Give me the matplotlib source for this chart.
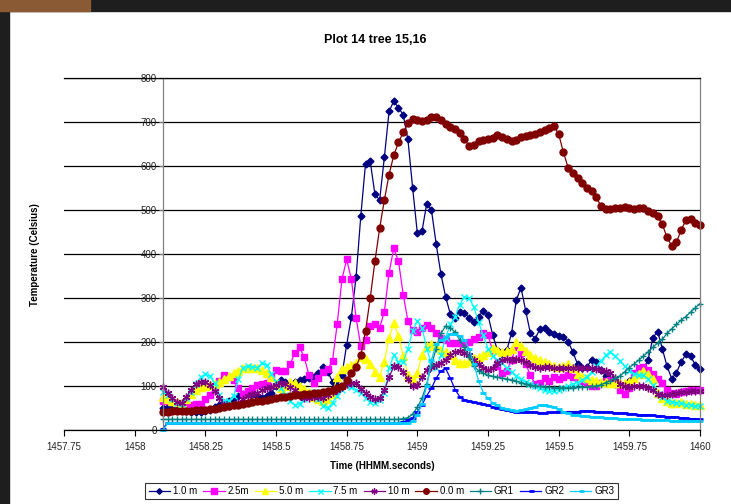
import numpy as np
import matplotlib.pyplot as plt
from matplotlib.patches import Rectangle

plt.rcParams['font.family'] = ['Liberation Sans', 'DejaVu Sans']

# readings start at 1458.1 and are taken once a second
t_start = 1458.1

t_1m = [50, 52, 55, 52, 48, 44, 42, 41, 41, 43,
        45, 52, 57, 62, 67, 72, 77, 81, 84, 82,
        77, 73, 78, 85, 100, 113, 110, 106, 110, 114,
        117, 118, 121, 130, 144, 132, 110, 100, 125, 194,
        257, 348, 487, 606, 611, 536, 523, 620, 725, 748,
        733, 717, 661, 551, 448, 453, 515, 500, 423, 355,
        303, 264, 254, 269, 267, 254, 246, 258, 271, 261,
        216, 182, 174, 182, 220, 295, 324, 271, 220, 208,
        229, 231, 224, 218, 214, 211, 201, 178, 150, 140,
        144, 159, 155, 136, 122, 112, 105, 100, 104, 112,
        120, 130, 140, 160, 210, 224, 185, 145, 117, 130,
        155, 172, 168, 148, 138]

t_2_5m = [65, 65, 64, 62, 58, 57, 58, 59, 60, 70,
          80, 95, 112, 125, 121, 113, 95, 82, 88, 95,
          102, 105, 107, 120, 136, 135, 134, 150, 175, 188,
          165, 125, 106, 118, 132, 138, 158, 242, 343, 388,
          343, 255, 191, 204, 236, 241, 233, 269, 358, 413,
          384, 308, 248, 227, 222, 232, 239, 231, 221, 210,
          204, 198, 197, 197, 198, 201, 206, 212, 220, 216,
          180, 145, 130, 135, 160, 188, 176, 150, 125, 105,
          108, 118, 112, 120, 116, 120, 124, 120, 116, 112,
          106, 101, 100, 106, 112, 114, 108, 90, 83, 96,
          130, 142, 144, 136, 128, 116, 106, 90, 84, 83,
          86, 88, 90, 90, 90]

t_5m = [76, 70, 65, 63, 61, 70, 82, 92, 98, 100,
        102, 105, 110, 117, 123, 129, 135, 141, 142, 142,
        140, 137, 130, 121, 108, 96, 100, 110, 108, 100,
        93, 86, 76, 70, 67, 70, 83, 121, 138, 143,
        147, 152, 166, 162, 150, 133, 121, 155, 210, 243,
        214, 168, 125, 116, 130, 170, 192, 195, 190, 182,
        177, 171, 160, 153, 153, 157, 163, 166, 170, 178,
        186, 182, 178, 179, 185, 201, 190, 180, 170, 164,
        160, 155, 150, 145, 143, 145, 150, 140, 128, 121,
        118, 114, 112, 110, 110, 108, 107, 106, 108, 110,
        118, 128, 135, 128, 115, 85, 72, 67, 62, 62,
        63, 60, 60, 58, 58]

t_7_5m = [87, 80, 70, 62, 60, 72, 86, 104, 120, 127,
          122, 106, 80, 67, 66, 78, 115, 142, 145, 144,
          142, 152, 148, 128, 110, 96, 80, 65, 57, 60,
          70, 80, 86, 70, 55, 50, 62, 78, 92, 100,
          98, 92, 85, 72, 64, 62, 68, 85, 140, 170,
          155, 155, 185, 225, 248, 232, 185, 150, 140, 170,
          210, 240, 258, 285, 303, 300, 280, 245, 215, 185,
          168, 160, 152, 140, 132, 122, 115, 110, 104, 100,
          96, 91, 88, 88, 92, 96, 100, 104, 108, 114,
          121, 132, 145, 158, 170, 178, 168, 157, 145, 135,
          128, 124, 125, 115, 102, 82, 74, 67, 64, 62,
          61, 58, 57, 55, 54]

t_10m = [98, 85, 72, 64, 62, 75, 92, 105, 110, 110,
         102, 88, 72, 58, 54, 56, 62, 70, 78, 82,
         84, 90, 95, 98, 102, 106, 104, 98, 91, 78,
         73, 72, 75, 74, 73, 80, 86, 90, 98, 105,
         108, 106, 94, 84, 74, 70, 72, 90, 120, 145,
         144, 132, 116, 100, 102, 120, 137, 144, 148, 152,
         160, 170, 177, 180, 176, 170, 160, 150, 142, 137,
         140, 152, 160, 162, 159, 162, 160, 155, 147, 144,
         142, 144, 143, 142, 140, 140, 141, 142, 141, 142,
         141, 140, 138, 136, 134, 130, 118, 105, 99, 97,
         99, 100, 100, 96, 90, 81, 79, 80, 82, 84,
         86, 87, 88, 89, 89]

t_0m = [42, 42, 43, 43, 44, 44, 44, 45, 45, 46,
        47, 48, 50, 52, 54, 56, 58, 60, 62, 64,
        66, 67, 68, 70, 72, 74, 76, 78, 79, 80,
        82, 83, 84, 85, 86, 88, 91, 95, 101, 114,
        130, 144, 170, 225, 300, 384, 459, 523, 581, 625,
        654, 677, 698, 707, 706, 702, 705, 712, 712, 706,
        697, 690, 684, 676, 661, 646, 649, 658, 659, 661,
        664, 670, 667, 661, 658, 660, 667, 669, 670, 673,
        677, 682, 686, 691, 673, 632, 597, 585, 574, 562,
        551, 543, 529, 509, 502, 502, 504, 506, 508, 504,
        502, 506, 506, 498, 494, 486, 468, 438, 419, 427,
        455, 477, 481, 470, 466]

gr1 = [24, 24, 24, 24, 24, 24, 24, 24, 24, 24,
       24, 24, 24, 24, 24, 24, 24, 24, 24, 24,
       24, 24, 24, 24, 24, 24, 24, 24, 24, 24,
       24, 24, 24, 24, 24, 24, 24, 24, 24, 24,
       24, 24, 24, 24, 24, 24, 24, 24, 24, 24,
       24, 26, 28, 36, 52, 72, 105, 148, 185, 220,
       236, 233, 222, 205, 188, 165, 145, 135, 129, 124,
       122, 120, 118, 116, 114, 111, 108, 105, 102, 100,
       99, 98, 97, 96, 96, 96, 96, 96, 97, 97,
       98, 99, 100, 103, 108, 112, 118, 123, 132, 142,
       150, 159, 168, 178, 188, 198, 206, 220, 230, 240,
       250, 258, 268, 278, 287]

gr2 = [3, 17, 17, 17, 17, 17, 17, 17, 17, 17,
       17, 17, 17, 17, 17, 17, 17, 17, 17, 17,
       17, 17, 17, 17, 17, 17, 17, 17, 17, 17,
       17, 17, 17, 17, 17, 17, 17, 17, 17, 17,
       17, 17, 17, 17, 17, 17, 17, 17, 17, 17,
       17, 18, 22, 27, 40, 58, 78, 95, 118, 134,
       140, 118, 92, 76, 69, 66, 63, 61, 59, 56,
       53, 50, 47, 45, 43, 42, 42, 42, 41, 40,
       39, 39, 40, 40, 41, 41, 42, 42, 42, 43,
       43, 43, 42, 42, 41, 40, 39, 38, 38, 37,
       36, 35, 35, 34, 33, 32, 31, 30, 30, 29,
       28, 27, 26, 26, 25]

gr3 = [0, 15, 15, 15, 15, 15, 15, 15, 15, 15,
       15, 15, 15, 15, 15, 15, 15, 15, 15, 15,
       15, 15, 15, 15, 15, 15, 15, 15, 15, 15,
       15, 15, 15, 15, 15, 15, 15, 15, 15, 15,
       15, 15, 15, 15, 15, 15, 15, 15, 15, 15,
       15, 15, 16, 20, 35, 60, 100, 160, 195, 205,
       212, 218, 218, 214, 205, 185, 150, 112, 85, 72,
       62, 56, 51, 47, 45, 44, 45, 47, 50, 53,
       56, 57, 55, 52, 47, 42, 38, 35, 33, 32,
       31, 30, 29, 29, 28, 27, 27, 26, 25, 25,
       24, 24, 23, 23, 23, 22, 22, 22, 21, 21,
       21, 21, 21, 21, 21]

labels = ['1.0 m', '2.5m', '5.0 m', '7.5 m', '10 m', '0.0 m', 'GR1', 'GR2', 'GR3']
series = [t_1m, t_2_5m, t_5m, t_7_5m, t_10m, t_0m, gr1, gr2, gr3]

x_ticks = [1457.75, 1458, 1458.25, 1458.5, 1458.75, 1459, 1459.25, 1459.5, 1459.75, 1460]
x_tick_labels = ['1457.75', '1458', '1458.25', '1458.5', '1458.75', '1459',
                 '1459.25', '1459.5', '1459.75', '1460']
y_ticks = [0, 100, 200, 300, 400, 500, 600, 700, 800]

# marker style per series (Excel defaults)
styles = [
    dict(color='#000080', marker='D', ms=3.5),
    dict(color='#FF00FF', marker='s', ms=5),
    dict(color='#FFFF00', marker='^', ms=5.5),
    dict(color='#00FFFF', marker='x', ms=4.5, mew=1),
    dict(color='#800080', marker=(6, 2, 0), ms=5.5, mew=1),
    dict(color='#800000', marker='o', ms=5),
    dict(color='#008080', marker='+', ms=5, mew=1),
    dict(color='#0000FF', marker='_', ms=4.5, mew=2),
    dict(color='#00CCFF', marker='_', ms=4.5, mew=2),
]

W, H = 731, 504
fig = plt.figure(figsize=(W / 100, H / 100), dpi=100)

# dark screenshot border
fig.patches.append(Rectangle((0, 0), 9 / W, 1, transform=fig.transFigure,
                             color='#1e1e1e', zorder=-5))
fig.patches.append(Rectangle((0, 1 - 11 / H), 1, 11 / H, transform=fig.transFigure,
                             color='#1e1e1e', zorder=-5))
fig.patches.append(Rectangle((0, 1 - 11 / H), 90 / W, 11 / H, transform=fig.transFigure,
                             color='#8a5a34', zorder=-4))

ax = fig.add_axes([64 / W, 1 - 430 / H, 636 / W, 351.7 / H])

n = len(t_1m)
time = t_start + np.arange(n) / 60.0

for vals, lab, st in zip(series, labels, styles):
    ax.plot(time, vals, label=lab, lw=0.9, clip_on=False, **st)

ax.set_xlim(1457.75, 1460)
ax.set_ylim(0, 800)
ax.set_xticks(x_ticks)
ax.set_xticklabels(x_tick_labels)
ax.set_yticks(y_ticks)

ax.spines['left'].set_position(('data', t_start))
ax.spines['left'].set_color('#808080')
ax.spines['right'].set_color('#808080')
ax.spines['top'].set_color('black')
ax.spines['bottom'].set_color('black')
for s in ax.spines.values():
    s.set_linewidth(0.9)

ax.yaxis.grid(True, color='black', lw=0.9)
ax.set_axisbelow(True)

ax.tick_params(axis='y', direction='out', length=3, labelsize=7, pad=1.5,
               color='#808080', labelcolor='#222222')
ax.tick_params(axis='x', direction='out', length=4, labelsize=7, pad=5,
               color='black', labelcolor='#222222')

ax.set_ylabel('Temperature (Celsius)', fontsize=7, fontweight='bold')
ax.yaxis.set_label_coords(-0.038, 0.5)

fig.text(375 / W, 1 - 40 / H, 'Plot 14 tree 15,16', ha='center', va='center',
         fontsize=9, fontweight='bold')
fig.text(382 / W, 1 - 466 / H, 'Time (HHMM.seconds)', ha='center', va='center',
         fontsize=7, fontweight='bold')

leg = fig.legend(loc='center', bbox_to_anchor=(381.5 / W, 1 - 491 / H), ncol=9,
                 fontsize=7, frameon=True, fancybox=False, edgecolor='black',
                 handlelength=2.2, handletextpad=0.3, columnspacing=0.6,
                 borderpad=0.35, borderaxespad=0, markerscale=0.8)
leg.get_frame().set_linewidth(0.8)

fig.savefig('out.png', dpi=100)
